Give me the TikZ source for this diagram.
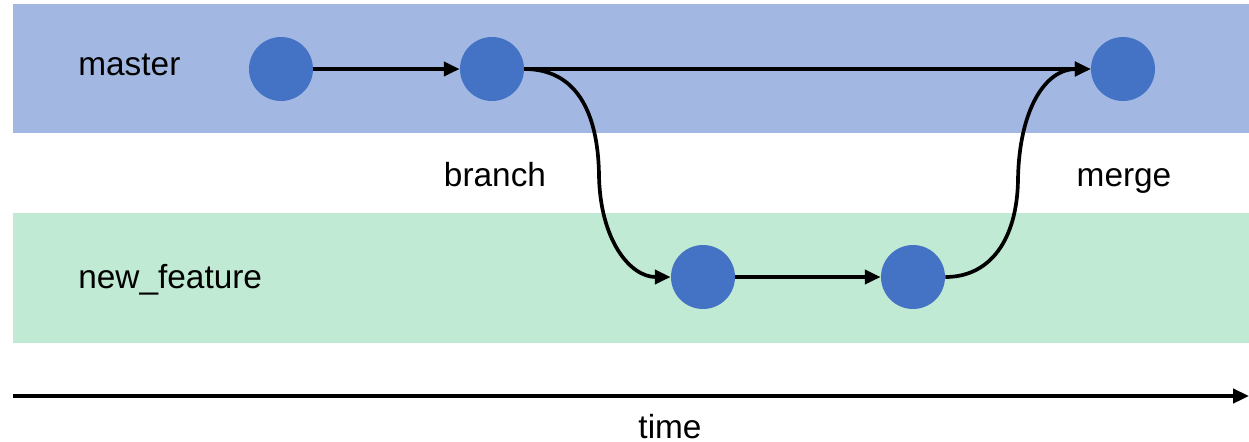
\documentclass[tikz,border=0pt]{standalone}
\usepackage{fontspec}
\setmainfont{Liberation Sans}
\usetikzlibrary{arrows.meta}
\definecolor{bandblue}{HTML}{A2B8E2}
\definecolor{bandgreen}{HTML}{C0EAD4}
\definecolor{commit}{HTML}{4472C4}
\begin{document}
\begin{tikzpicture}[x=0.02cm,y=-0.02cm,
  commitnode/.style={circle,fill=commit,minimum size=1.28cm,inner sep=0pt},
  lbl/.style={font=\fontsize{19}{22}\selectfont,inner sep=0pt},
  conn/.style={line width=2.1pt,-{Triangle[length=9pt,width=8pt]}}]
\useasboundingbox (0,0) rectangle (1249,441);
\fill[bandblue] (13,4) rectangle (1249,133);
\fill[bandgreen] (13,213) rectangle (1249,343);
\node[lbl,anchor=base west] (lm) at (78,75) {master};
\node[lbl,anchor=base west] (lf) at (78,288) {new\_feature};
\node[lbl,anchor=base] (lb) at (495,186) {branch};
\node[lbl,anchor=base] (lg) at (1124,186) {merge};
\node[commitnode] (m1) at (281,69) {};
\node[commitnode] (m2) at (492,69) {};
\node[commitnode] (m3) at (1123,69) {};
\node[commitnode] (f1) at (703,277) {};
\node[commitnode] (f2) at (913,277) {};
\coordinate (bm) at (599,175);
\coordinate (gm) at (1018,180);
\draw[conn] (m1) -- (m2);
\draw[conn] (m2) -- (m3);
\draw[conn] (f1) -- (f2);
\draw[conn] (m2.east) .. controls (575,69) and (598,110) .. (bm)
  .. controls (600,240) and (630,277) .. (f1.west);
\draw[conn] (f2.east) .. controls (990,277) and (1017,240) .. (gm)
  .. controls (1019,110) and (1045,69) .. (m3.west);
\coordinate (t0) at (13,396);
\coordinate (t1) at (1249,396);
\draw[conn] (t0) -- (t1);
\node[lbl,anchor=base] (tl) at (670,438) {time};
\end{tikzpicture}
\end{document}
